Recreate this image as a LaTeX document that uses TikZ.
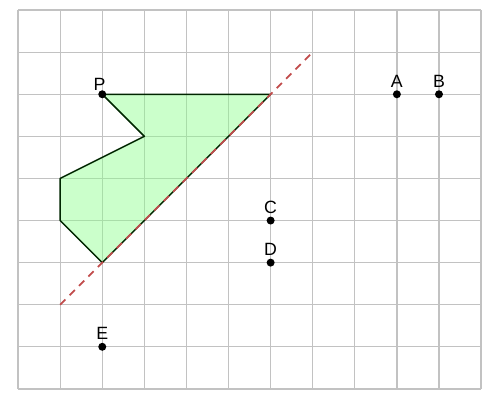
\documentclass[tikz,border=0pt]{standalone}
\usepackage{fontspec}
\setmainfont{Liberation Sans}
\usetikzlibrary{calc}
\tikzset{
 gridline/.style={draw=black!24,line width=.9pt},
 region/.style={draw=black!75!green!60!black,fill=green!45!white,fill opacity=.45,line width=1pt,line join=round},
 mirror/.style={draw=red!65!black!70,dashed,dash pattern=on 5pt off 4pt,line width=1.1pt},
 dot/.style={circle,fill=black,minimum size=.19cm,inner sep=0},
 dotlabel/.style={font=\fontsize{12}{14}\selectfont,anchor=south,inner sep=1.5pt}
}
\begin{document}
\begin{tikzpicture}[x=1cm,y=1cm]
\path[use as bounding box] (-0.43,-0.26) rectangle (11.45,9.24);
\draw[gridline] (0,0) grid (11,9);
\coordinate (P) at (2,7);
\coordinate (Q) at (6,7);
\coordinate (R) at (2,3);
\coordinate (S) at (1,4);
\coordinate (T) at (1,5);
\coordinate (U) at (3,6);
\coordinate (M1) at (1,2);
\coordinate (M2) at (7,8);
\draw[region] (P) -- (Q) -- (R) -- (S) -- (T) -- (U) -- cycle;
\draw[mirror] (M1) -- (M2);
\node[dot] (p) at (P) {};
\node[dot] (a) at (9,7) {};
\node[dot] (b) at (10,7) {};
\node[dot] (c) at (6,4) {};
\node[dot] (d) at (6,3) {};
\node[dot] (e) at (2,1) {};
\node[dotlabel,anchor=south east,inner sep=0pt] at ($(p)+(.08,.08)$) {P};
\node[dotlabel] at (a.north) {A};
\node[dotlabel] at (b.north) {B};
\node[dotlabel] at (c.north) {C};
\node[dotlabel] at (d.north) {D};
\node[dotlabel] at (e.north) {E};
\end{tikzpicture}
\end{document}
